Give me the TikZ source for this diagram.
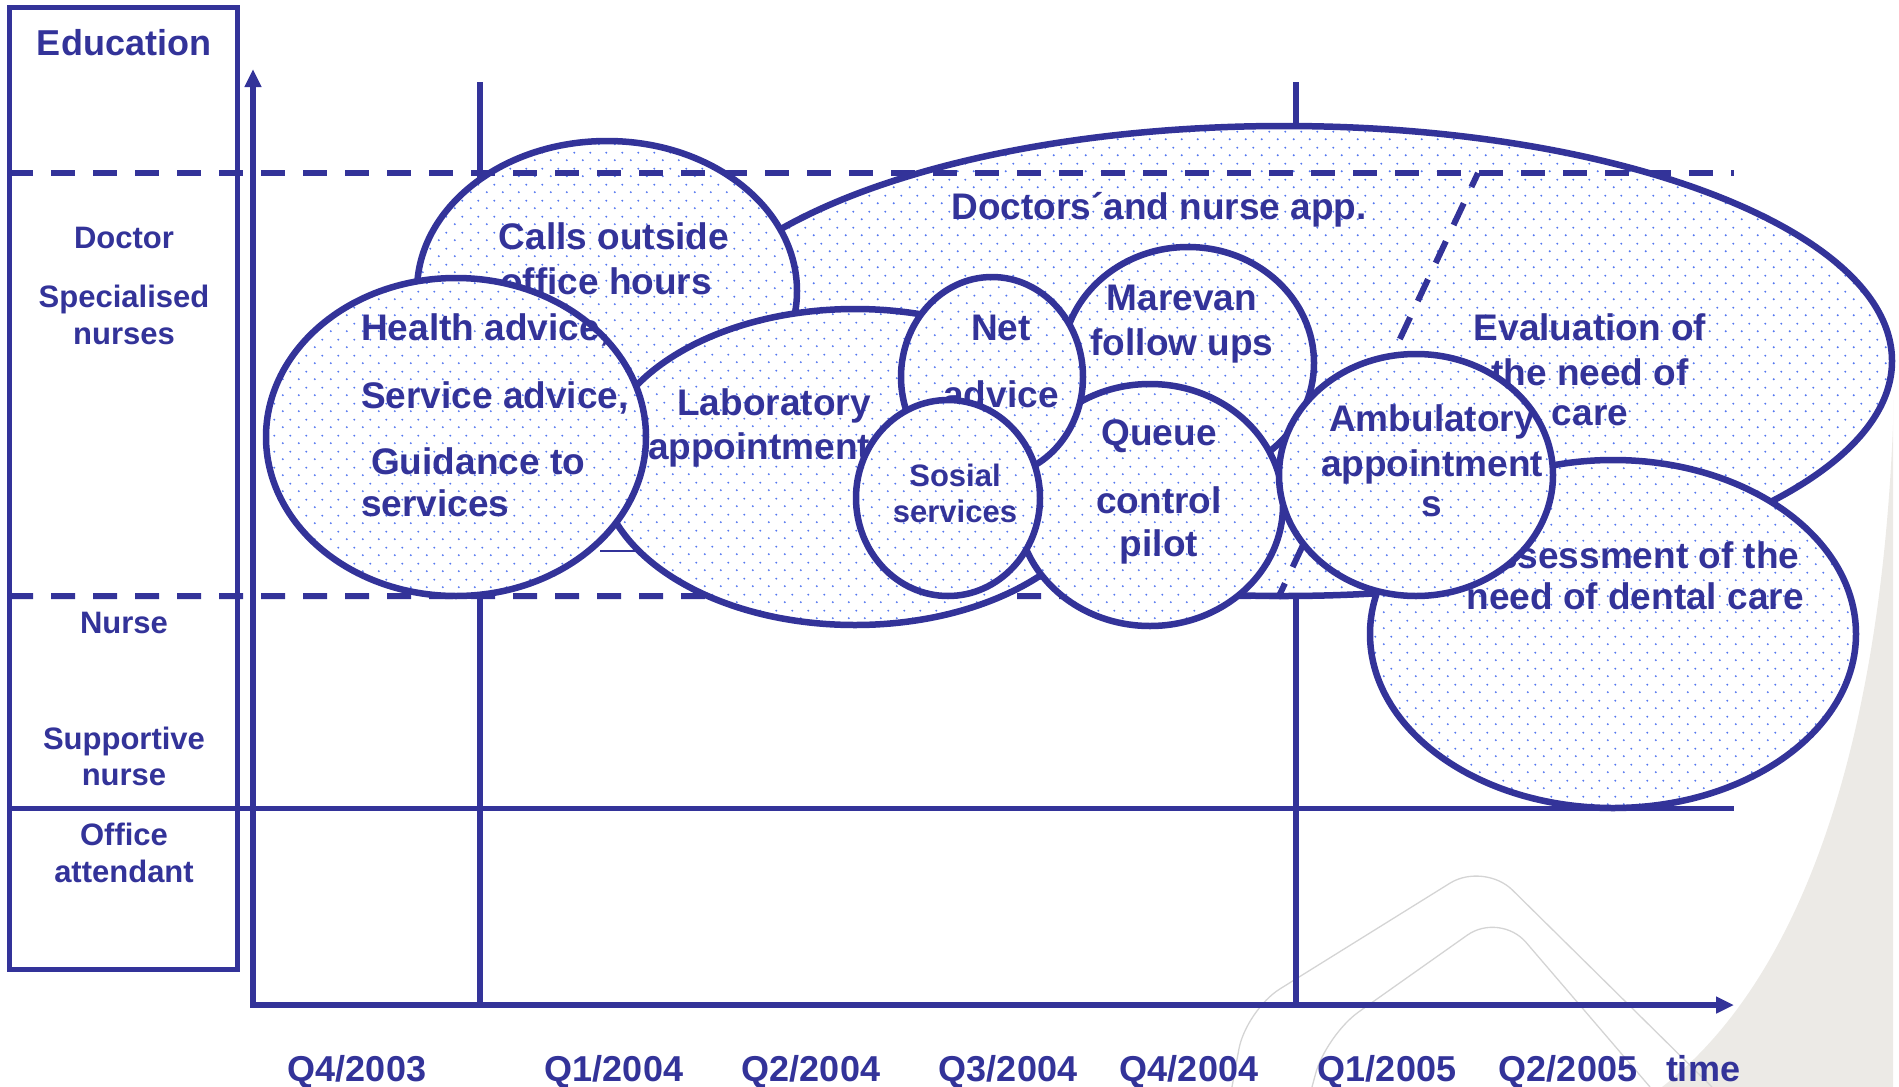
\documentclass[tikz,border=0pt]{standalone}
\usepackage{fontspec}
\setmainfont{Liberation Sans}
\usetikzlibrary{patterns,arrows.meta}
\definecolor{mainblue}{HTML}{333399}
\definecolor{dotblue}{HTML}{5578F0}
\definecolor{wmgray}{HTML}{ECEAE6}
\definecolor{chevgray}{HTML}{D4D4D4}
\pgfdeclarepatternformonly{bluedots}{\pgfpointorigin}{\pgfpoint{15.5pt}{15.5pt}}{\pgfpoint{15.5pt}{15.5pt}}{%
  \pgfpathcircle{\pgfpoint{3.9pt}{3.9pt}}{1.1pt}%
  \pgfpathcircle{\pgfpoint{11.65pt}{11.65pt}}{1.1pt}%
  \pgfusepath{fill}%
}
\tikzset{
  blob/.style={draw=mainblue, line width=6.5pt, preaction={fill=white}, pattern=bluedots, pattern color=dotblue},
  bigtxt/.style={text=mainblue, font=\bfseries\fontsize{37}{45}\selectfont, inner sep=0pt, anchor=base},
  midtxt/.style={text=mainblue, font=\bfseries\fontsize{36}{44}\selectfont, inner sep=0pt, anchor=base},
  smalltxt/.style={text=mainblue, font=\bfseries\fontsize{31}{38}\selectfont, inner sep=0pt, anchor=base},
  axisline/.style={draw=mainblue, line width=5.5pt},
  vline/.style={draw=mainblue, line width=6pt},
  frameline/.style={draw=mainblue, line width=5pt},
  thinline/.style={draw=mainblue, line width=5pt},
  dashline/.style={draw=mainblue, line width=6pt, dash pattern=on 24pt off 18pt},
  chev/.style={draw=chevgray, line width=1.3pt},
}
\begin{document}
\begin{tikzpicture}[x=1pt,y=-1pt]
\useasboundingbox (0,0) rectangle (1899,1087);
% background watermark
\fill[wmgray] (1893,400) -- (1893,425) .. controls (1880,750) and (1800,980) .. (1662,1087) -- (1893,1087) -- cycle;
\draw[chev, rounded corners=40pt] (1232,1087) -- (1246,1010) -- (1484,862) -- (1712,1087);
\draw[chev, rounded corners=40pt] (1312,1087) -- (1326,1035) -- (1500,912) -- (1650,1087);

% left legend box
\draw[frameline] (9,7) rectangle (237,969);
\node[midtxt] (edu) at (124,55) {Education};
\node[smalltxt] (doc) at (124,248) {Doctor};
\node[smalltxt] (spec) at (124,307) {Specialised};
\node[smalltxt] (nurs) at (124,344) {nurses};
\node[smalltxt] (nur) at (124,633) {Nurse};
\node[smalltxt] (sup) at (124,749) {Supportive};
\node[smalltxt] (supn) at (124,785) {nurse};
\node[smalltxt] (off) at (124,845) {Office};
\node[smalltxt] (att) at (124,882) {attendant};

% grid lines and axes
\coordinate (ytop) at (253,69);
\coordinate (orig) at (253,1005);
\coordinate (xend) at (1734,1005);
\draw[thinline] (9,808) -- (1734,808);
\draw[vline] (480,82) -- (480,1005);
\draw[vline] (1296,82) -- (1296,1005);
\draw[axisline, {Triangle[length=18pt,width=16pt]}-{Triangle[length=18pt,width=16pt]}] (ytop) -- (orig) -- (xend);

% time labels
\node[midtxt] (q403) at (357,1081) {Q4/2003};
\node[midtxt] (q104) at (614,1081) {Q1/2004};
\node[midtxt] (q204) at (811,1081) {Q2/2004};
\node[midtxt] (q304) at (1008,1081) {Q3/2004};
\node[midtxt] (q404) at (1189,1081) {Q4/2004};
\node[midtxt] (q105) at (1387,1081) {Q1/2005};
\node[midtxt] (q205) at (1568,1081) {Q2/2005};
\node[midtxt] (time) at (1703,1081) {time};

% big ellipse
\path[blob] (1284,361) ellipse [x radius=608pt, y radius=235pt];
\node[bigtxt] (dna) at (1159,219) {Doctors´and nurse app.};
\node[bigtxt] (ev1) at (1590,340) {Evaluation of};
\node[bigtxt] (ev2) at (1590,385) {the need of};
\node[bigtxt] (ev3) at (1590,425) {care};

% calls outside office hours
\path[blob] (607,291) ellipse [x radius=190pt, y radius=150pt];
\node[bigtxt] (call1) at (614,249) {Calls outside};
\node[bigtxt] (call2) at (606,294) {office hours};

% dashed boundaries
\draw[dashline] (9,173) -- (1734,173);
\draw[dashline] (9,596) -- (1279,596) -- (1478,173);

% assessment of dental care
\path[blob] (1613,634) ellipse [x radius=243pt, y radius=174pt];
\node[bigtxt] (as1) at (1635,568) {Assessment of the};
\node[bigtxt] (as2) at (1635,609) {need of dental care};

% laboratory
\path[blob] (855,467) ellipse [x radius=255pt, y radius=158pt];
\node[bigtxt] (lab1) at (774,415) {Laboratory};
\node[bigtxt] (lab2) at (759,459) {appointment};

% health advice
\path[blob] (456,437) ellipse [x radius=190pt, y radius=159pt];
\node[bigtxt, anchor=base west] (ha1) at (361,340) {Health advice,};
\node[bigtxt, anchor=base west] (ha2) at (361,408) {Service advice,};
\node[bigtxt, anchor=base west] (ha3) at (371,474) {Guidance to};
\node[bigtxt, anchor=base west] (ha4) at (361,516) {services};
\draw[draw=mainblue, line width=2pt] (600,551) -- (635,551);

% marevan
\path[blob] (1188,363) ellipse [x radius=126pt, y radius=116pt];
\node[bigtxt] (mar1) at (1182,310) {Marevan};
\node[bigtxt] (mar2) at (1182,355) {follow ups};

% queue control pilot
\path[blob] (1150,505) ellipse [x radius=133pt, y radius=121pt];
\node[bigtxt] (qu1) at (1159,445) {Queue};
\node[bigtxt] (qu2) at (1159,513) {control};
\node[bigtxt] (qu3) at (1159,556) {pilot};

% net advice
\path[blob] (992,377) ellipse [x radius=91pt, y radius=100pt];
\node[bigtxt] (net1) at (1001,340) {Net};
\node[bigtxt] (net2) at (1001,407) {advice};

% social services
\path[blob] (948,498) ellipse [x radius=92pt, y radius=98pt];
\node[smalltxt] (sos1) at (955,486) {Sosial};
\node[smalltxt] (sos2) at (955,522) {services};

% ambulatory appointments
\path[blob] (1416,475) ellipse [x radius=137pt, y radius=121pt];
\node[bigtxt] (amb1) at (1432,431) {Ambulatory};
\node[bigtxt] (amb2) at (1432,476) {appointment};
\node[bigtxt] (amb3) at (1432,516) {s};
\end{tikzpicture}
\end{document}
